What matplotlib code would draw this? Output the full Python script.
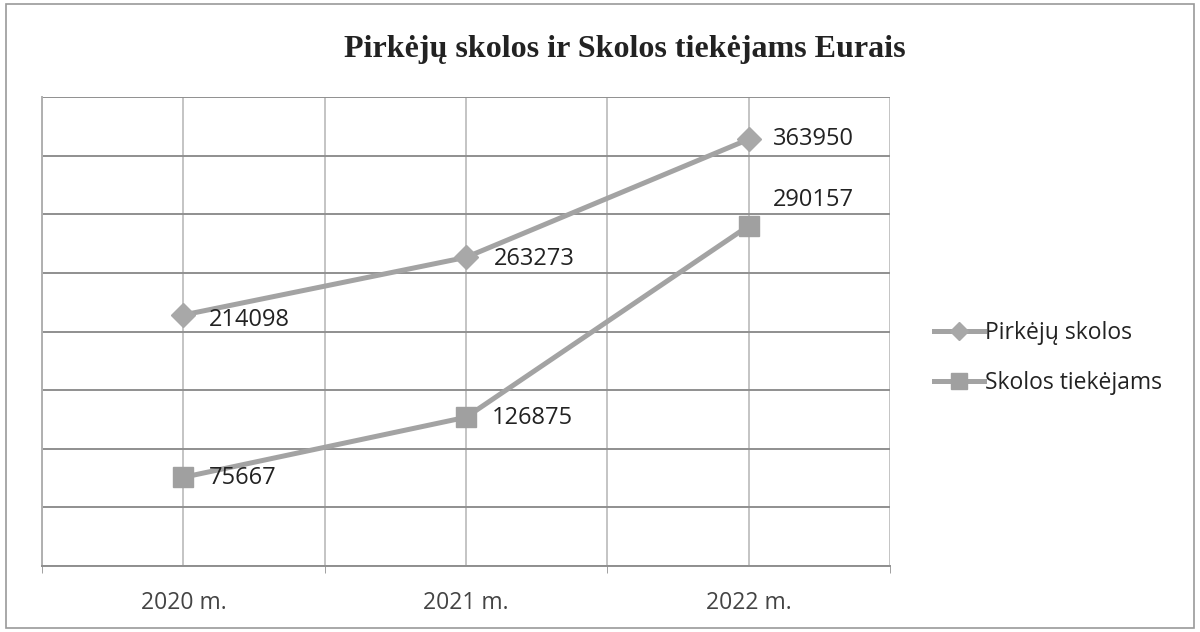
import matplotlib
matplotlib.use("Agg")
import matplotlib.pyplot as plt
from matplotlib.patches import Rectangle
from matplotlib.ticker import MultipleLocator

categories = ["2020 m.", "2021 m.", "2022 m."]
pirkeju = [214098, 263273, 363950]
tiekejams = [75667, 126875, 290157]
series_names = ["Pirkėjų skolos", "Skolos tiekėjams"]
title = "Pirkėjų skolos ir Skolos tiekėjams Eurais"

fig = plt.figure(figsize=(12, 6.32), dpi=100)
fig.patches.append(Rectangle((0.005, 0.006), 0.99, 0.988, transform=fig.transFigure,
                             fill=False, edgecolor="#9a9a9a", linewidth=1.2))
ax = fig.add_axes([0.035, 0.1044, 0.7067, 0.7421])

x = list(range(len(categories)))
line_col = "#a3a3a3"
ax.plot(x, pirkeju, color=line_col, lw=3.6, marker="D", ms=12.5, mfc="#a8a8a8",
        mec="#a8a8a8", label=series_names[0], zorder=3)
ax.plot(x, tiekejams, color=line_col, lw=3.6, marker="s", ms=15, mfc="#a0a0a0",
        mec="#a0a0a0", label=series_names[1], zorder=3)

ax.set_xlim(-0.5, 2.5)
ax.set_ylim(0, 400000)
ax.yaxis.set_major_locator(MultipleLocator(50000))
ax.set_yticklabels([])
ax.tick_params(axis="y", length=0)
ax.xaxis.set_minor_locator(MultipleLocator(0.5))
ax.set_xticks(x)
ax.set_xticklabels(categories, fontsize=16.5, color="#444444", family="Open Sans")
ax.tick_params(axis="x", which="major", length=0, pad=18)
ax.tick_params(axis="x", which="minor", length=5, color="#909090")
ax.grid(True, which="both", axis="x", color="#c4c4c4", lw=1.4)
ax.grid(True, which="major", axis="y", color="#8f8f8f", lw=1.4)
for s in ["top", "right"]:
    ax.spines[s].set_visible(False)
ax.spines["left"].set_color("#b0b0b0")
ax.spines["left"].set_linewidth(1.4)
ax.spines["bottom"].set_color("#8f8f8f")
ax.spines["bottom"].set_linewidth(1.4)
ax.set_axisbelow(True)

lbl_kw = dict(fontsize=17, color="#222222", family="Open Sans", zorder=4)
offs_p = [(0.09, -4500), (0.10, -1500), (0.085, 0)]
for xi, v, (dx, dy) in zip(x, pirkeju, offs_p):
    ax.text(xi + dx, v + dy, f"{v}", ha="left", va="center", **lbl_kw)
offs_t = [(0.09, -1000), (0.09, -500), (0.085, 22000)]
for xi, v, (dx, dy) in zip(x, tiekejams, offs_t):
    ax.text(xi + dx, v + dy, f"{v}", ha="left", va="center", **lbl_kw)

fig.text(0.521, 0.921, title, ha="center", va="center", fontsize=23,
         fontweight="bold", family="Liberation Serif", color="#222222")

leg = fig.legend(loc="center left", bbox_to_anchor=(0.761, 0.434), frameon=False,
                 prop={"family": "Open Sans", "size": 16.5}, labelspacing=1.15,
                 handlelength=2.2, handletextpad=0.05, markerscale=0.75)
for t in leg.get_texts():
    t.set_color("#222222")

fig.savefig("out.png", dpi=100)
